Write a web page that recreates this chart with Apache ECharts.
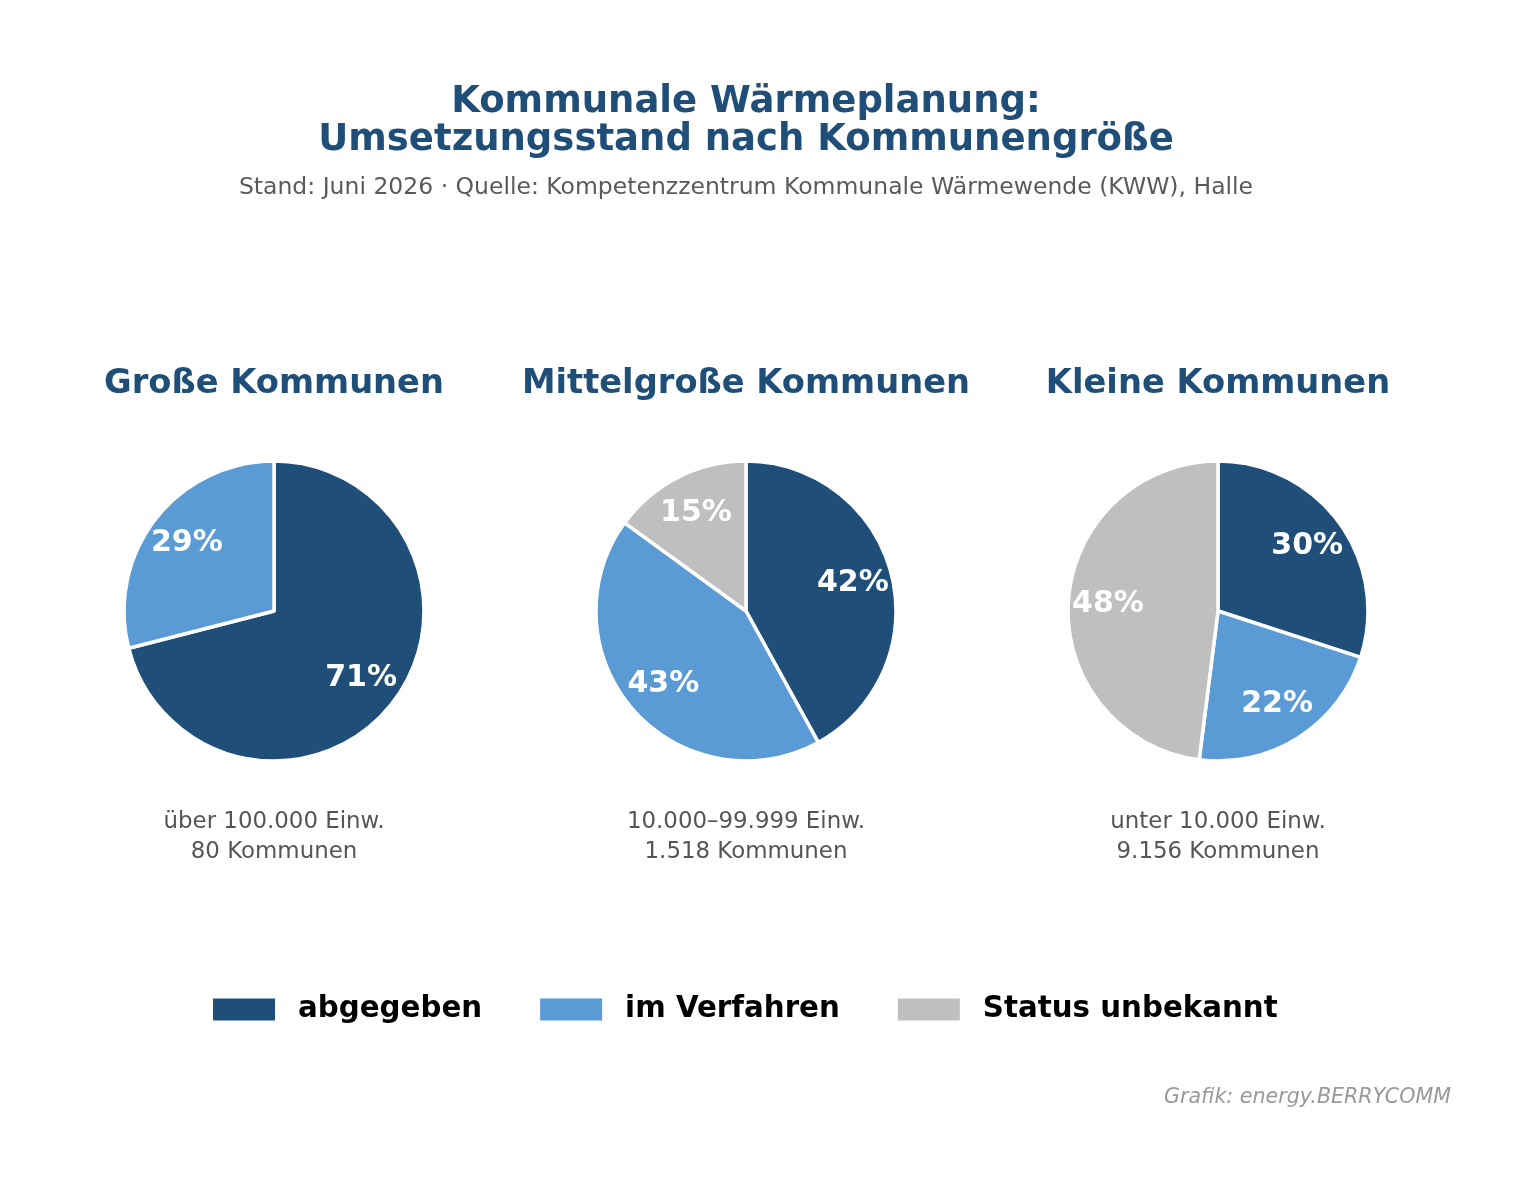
<!DOCTYPE html>
<html>
<head>
<meta charset="utf-8">
<script src="https://cdn.jsdelivr.net/npm/echarts@6/dist/echarts.min.js"></script>
<style>
html,body{margin:0;padding:0;background:#fff;}
#c{width:1536px;height:1193px;}
</style>
</head>
<body>
<div id="c"></div>
<script>
const categories = ['abgegeben', 'im Verfahren', 'Status unbekannt'];
const colors = ['#1f4e79', '#5b9bd5', '#bfbfbf'];
const groupTitles = ['Große Kommunen', 'Mittelgroße Kommunen', 'Kleine Kommunen'];
const groupSizes = ['über 100.000 Einw.', '10.000–99.999 Einw.', 'unter 10.000 Einw.'];
const groupCounts = ['80 Kommunen', '1.518 Kommunen', '9.156 Kommunen'];
const valuesGross = [71, 29, 0];
const valuesMittel = [42, 43, 15];
const valuesKlein = [30, 22, 48];
const allValues = [valuesGross, valuesMittel, valuesKlein];

const centersX = [274, 746, 1218];
const centerY = 611;
const R = 150;
const FONT = '"DejaVu Sans", sans-serif';

const chart = echarts.init(document.getElementById('c'));

const series = [];
allValues.forEach((vals, i) => {
  series.push({
    type: 'pie',
    center: [centersX[i], centerY],
    radius: [0, R],
    startAngle: 90,
    clockwise: true,
    animation: false,
    silent: true,
    data: categories.map((n, k) => ({ name: n, value: vals[k], itemStyle: { color: colors[k] } })).filter(d => d.value > 0),
    itemStyle: { borderColor: '#ffffff', borderWidth: 3.5 },
    label: { show: false },
    labelLine: { show: false },
    emphasis: { disabled: true }
  });
});
allValues.forEach((vals, i) => {
  series.push({
    type: 'pie',
    center: [centersX[i], centerY],
    radius: [R * 0.43, R],
    startAngle: 90,
    clockwise: true,
    animation: false,
    silent: true,
    z: 5,
    data: categories.map((n, k) => ({ name: n, value: vals[k] })).filter(d => d.value > 0),
    itemStyle: { color: 'rgba(0,0,0,0)', borderWidth: 0 },
    label: {
      show: true,
      position: 'inside',
      formatter: '{c}%',
      color: '#ffffff',
      fontFamily: FONT,
      fontWeight: 'bold',
      fontSize: 30
    },
    labelLine: { show: false },
    emphasis: { disabled: true }
  });
});

const graphics = [];
function txt(text, x, y, size, color, weight, style, align) {
  graphics.push({
    type: 'text',
    x: x, y: y,
    silent: true,
    style: {
      text: text,
      fill: color,
      font: (style || 'normal') + ' ' + (weight || 'normal') + ' ' + size + 'px ' + FONT,
      textAlign: align || 'center',
      textVerticalAlign: 'middle'
    }
  });
}
txt('Kommunale Wärmeplanung:', 746, 102, 37, '#1f4e79', 'bold');
txt('Umsetzungsstand nach Kommunengröße', 746, 140, 37, '#1f4e79', 'bold');
txt('Stand: Juni 2026 · Quelle: Kompetenzzentrum Kommunale Wärmewende (KWW), Halle', 746, 188, 23.5, '#5a5a5a', 'normal');
groupTitles.forEach((t, i) => {
  txt(t, centersX[i], 384, 33.7, '#1f4e79', 'bold');
  txt(groupSizes[i], centersX[i], 822, 22.9, '#555555', 'normal');
  txt(groupCounts[i], centersX[i], 852, 22.9, '#555555', 'normal');
});
txt('Grafik: energy.BERRYCOMM', 1451, 1098, 20.6, '#999999', 'normal', 'italic', 'right');

chart.setOption({
  backgroundColor: '#ffffff',
  animation: false,
  legend: {
    data: categories.map((n, k) => ({ name: n, itemStyle: { color: colors[k], borderWidth: 0 } })),
    left: 208,
    top: 990,
    icon: 'rect',
    itemWidth: 62,
    itemHeight: 22,
    itemGap: 58,
    selectedMode: false,
    textStyle: {
      fontFamily: FONT,
      fontWeight: 'bold',
      fontSize: 29.3,
      color: '#000000',
      padding: [0, 0, 0, 18]
    }
  },
  graphic: graphics,
  series: series
});
</script>
</body>
</html>
